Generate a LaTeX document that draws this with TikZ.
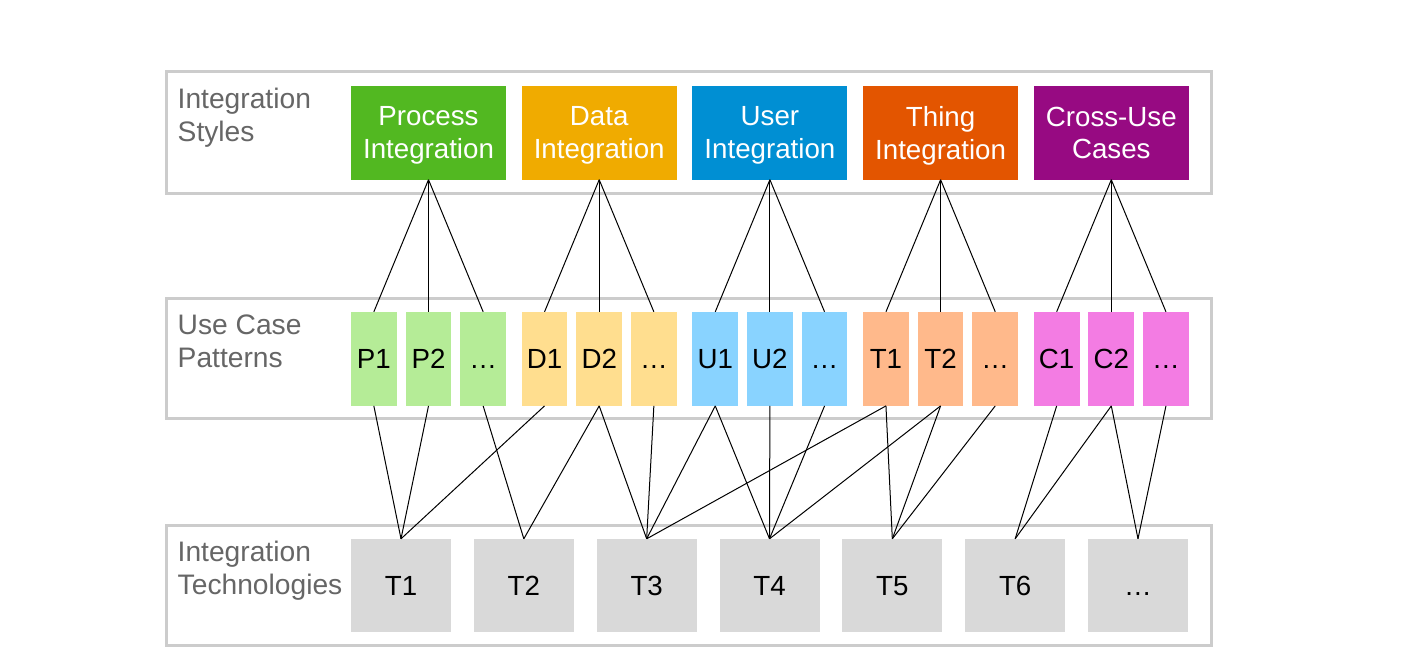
\documentclass[tikz,border=0pt]{standalone}
\usepackage{fontspec}
\setmainfont{Liberation Sans}
\definecolor{framegray}{HTML}{CCCCCC}
\definecolor{labelgray}{HTML}{666666}
\definecolor{techgray}{HTML}{D9D9D9}
\definecolor{cA}{HTML}{52B821}
\definecolor{cB}{HTML}{F0AB00}
\definecolor{cC}{HTML}{008FD3}
\definecolor{cD}{HTML}{E35500}
\definecolor{cE}{HTML}{970A82}
\definecolor{lA}{HTML}{B5EC97}
\definecolor{lB}{HTML}{FFDE8F}
\definecolor{lC}{HTML}{89D3FF}
\definecolor{lD}{HTML}{FFB98B}
\definecolor{lE}{HTML}{F37CE3}
\begin{document}
\begin{tikzpicture}[x=1pt,y=-1pt,
  frame/.style={draw=framegray, line width=3pt},
  lbl/.style={anchor=north west, inner sep=0pt, align=left, text=labelgray, font=\fontsize{28.2}{32.5}\selectfont},
  stylebox/.style={minimum width=155pt, minimum height=93.5pt, inner sep=0pt, text=white, align=center, text depth=-3.5pt, font=\fontsize{27.7}{32.7}\selectfont},
  patbox/.style={minimum width=45.7pt, minimum height=93.7pt, inner sep=0pt, text=black, text height=19.8pt, text depth=0pt, font=\fontsize{27.7}{33}\selectfont},
  techbox/.style={fill=techgray, minimum width=100pt, minimum height=93pt, inner sep=0pt, text=black, text height=19.8pt, text depth=0pt, font=\fontsize{27.7}{33}\selectfont},
  link/.style={draw=black, line width=1pt}]
\useasboundingbox (0,0) rectangle (1415,666);
% frames
\draw[frame] (166,72) rectangle (1211,193);
\draw[frame] (166,298) rectangle (1211,418);
\draw[frame] (166,525) rectangle (1211,645);
% labels
\node[lbl] (lab1) at (177.5,88) {Integration\\Styles};
\node[lbl] (lab2) at (177.5,315) {Use Case\\Patterns};
\node[lbl] (lab3) at (177.5,541) {Integration\\Technologies};
% style boxes
\foreach \i/\c/\t in {1/cA/{Process\\Integration},2/cB/{Data\\Integration},3/cC/{User\\Integration},4/cD/{Thing\\Integration},5/cE/{Cross-Use\\Cases}}{
  \node[stylebox, fill=\c] (S\i) at ({351+77.5+(\i-1)*170.7},132.75) {\t};
}
% pattern boxes
\foreach \i/\c/\l in {1/lA/P,2/lB/D,3/lC/U,4/lD/T,5/lE/C}{
  \node[patbox, fill=\c] (p\i1) at ({351+22.85+(\i-1)*170.7},358.85) {\l1};
  \node[patbox, fill=\c] (p\i2) at ({351+22.85+54.65+(\i-1)*170.7},358.85) {\l2};
  \node[patbox, fill=\c] (p\i3) at ({351+22.85+109.3+(\i-1)*170.7},358.85) {…};
}
% technology boxes
\foreach \k/\t in {1/T1,2/T2,3/T3,4/T4,5/T5,6/T6,7/…}{
  \node[techbox] (t\k) at ({401+(\k-1)*122.83},585.5) {\t};
}
% style -> pattern links
\foreach \i in {1,...,5}{
  \foreach \j in {1,2,3}{
    \draw[link] (S\i.south) -- (p\i\j.north);
  }
}
% pattern -> technology links
\foreach \a/\b in {11/1,12/1,13/2,21/1,22/2,22/3,23/3,31/3,31/4,32/4,33/4,41/3,41/5,42/4,42/5,43/5,51/6,52/6,52/7,53/7}{
  \draw[link] (p\a.south) -- (t\b.north);
}
\end{tikzpicture}
\end{document}
